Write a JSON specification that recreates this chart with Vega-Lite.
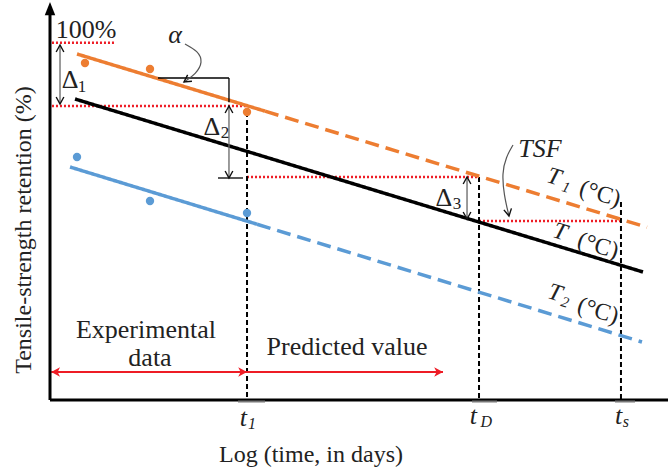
{
  "$schema": "https://vega.github.io/schema/vega-lite/v6.json",
  "width": 618,
  "height": 400,
  "autosize": {"type": "none"},
  "padding": {"left": 50, "top": 0, "right": 0, "bottom": 74},
  "background": "white",
  "config": {"view": {"stroke": null}},
  "datasets": {
    "fit": [
      {"s": "T1", "part": "solid", "x": 0.437, "y": 96.88, "x2": 3.479, "y2": 80.88},
      {"s": "T1", "part": "dashed", "x": 3.479, "y": 80.88, "x2": 9.66, "y2": 48.37},
      {"s": "T", "part": "solid", "x": 0.405, "y": 84.28, "x2": 9.595, "y2": 35.84},
      {"s": "T2", "part": "solid", "x": 0.324, "y": 65.24, "x2": 3.35, "y2": 49.22},
      {"s": "T2", "part": "dashed", "x": 3.35, "y": 49.22, "x2": 9.579, "y2": 16.24}
    ],
    "pts": [
      {"s": "T1", "x": 0.566, "y": 94.36},
      {"s": "T1", "x": 1.618, "y": 92.68},
      {"s": "T1", "x": 3.188, "y": 80.64},
      {"s": "T2", "x": 0.437, "y": 68.04},
      {"s": "T2", "x": 1.618, "y": 55.72},
      {"s": "T2", "x": 3.188, "y": 52.36}
    ],
    "reddot": [
      {"x": 0.032, "x2": 1.052, "y": 100},
      {"x": 0.032, "x2": 3.188, "y": 82.32},
      {"x": 3.188, "x2": 6.942, "y": 62.44},
      {"x": 6.942, "x2": 9.239, "y": 50.12}
    ],
    "vdash": [
      {"x": 3.188, "y": 80.64, "y2": 0},
      {"x": 6.942, "y": 62.44, "y2": 0},
      {"x": 9.239, "y": 55.44, "y2": 0}
    ],
    "gline": [
      {"x": 0.162, "y": 99.4, "x2": 0.162, "y2": 82.88},
      {"x": 2.896, "y": 82.32, "x2": 2.896, "y2": 62.16},
      {"x": 6.748, "y": 62.44, "x2": 6.748, "y2": 50.68}
    ],
    "bline": [
      {"x": 1.748, "y": 90.16, "x2": 2.896, "y2": 90.16},
      {"x": 2.896, "y": 90.16, "x2": 2.896, "y2": 83.4},
      {"x": 2.718, "y": 62.16, "x2": 3.123, "y2": 62.16}
    ],
    "curves": [
      {"id": "a", "i": 0, "x": 2.184, "y": 99.68},
      {"id": "a", "i": 1, "x": 2.395, "y": 97.72},
      {"id": "a", "i": 2, "x": 2.476, "y": 94.64},
      {"id": "a", "i": 3, "x": 2.362, "y": 91.28},
      {"id": "a", "i": 4, "x": 2.168, "y": 89.04},
      {"id": "b", "i": 0, "x": 7.492, "y": 71.4},
      {"id": "b", "i": 1, "x": 7.379, "y": 68.04},
      {"id": "b", "i": 2, "x": 7.314, "y": 63.56},
      {"id": "b", "i": 3, "x": 7.346, "y": 57.4},
      {"id": "b", "i": 4, "x": 7.427, "y": 51.52}
    ],
    "uph": [{"x": 0.162, "y": 99.4}, {"x": 2.896, "y": 82.32}, {"x": 6.748, "y": 62.44}],
    "downh": [{"x": 0.162, "y": 82.88}, {"x": 2.896, "y": 62.16}, {"x": 6.748, "y": 50.68}],
    "alphah": [{"x": 2.168, "y": 89.04}],
    "tsfh": [{"x": 7.427, "y": 51.52}],
    "redline": [
      {"x": 0.02, "x2": 3.188, "y": 7.84},
      {"x": 3.188, "x2": 6.359, "y": 7.84}
    ],
    "redR": [{"x": 3.188, "y": 7.84}, {"x": 6.359, "y": 7.84}],
    "redL": [{"x": 0.02, "y": 7.84}],
    "ticks": [
      {"x": 3.042, "x2": 3.479, "y": -0.42},
      {"x": 6.828, "x2": 7.233, "y": -0.42},
      {"x": 9.142, "x2": 9.466, "y": -0.42}
    ],
    "yaxis": [{"x": 0, "y": 0, "y2": 107.8}],
    "xaxis": [{"x": 0, "x2": 10, "y": 0}],
    "yarrow": [{"x": 0, "y": 109.48}],
    "txt": [
      {"t": "100%", "x": 0.583, "y": 101.36},
      {"t": "Experimental", "x": 1.553, "y": 17.36},
      {"t": "data", "x": 1.618, "y": 9.52},
      {"t": "Predicted value", "x": 4.806, "y": 12.6},
      {"t": "Δ", "x": 0.324, "y": 87.36},
      {"t": "Δ", "x": 2.621, "y": 74.2},
      {"t": "Δ", "x": 6.375, "y": 54.32}
    ],
    "sub": [
      {"t": "1", "x": 0.518, "y": 86.24},
      {"t": "2", "x": 2.832, "y": 73.36},
      {"t": "3", "x": 6.586, "y": 53.48}
    ],
    "ital": [
      {"t": "α", "x": 2.023, "y": 99.96},
      {"t": "TSF", "x": 7.929, "y": 68.04},
      {"t": "t", "x": 3.13, "y": -7.28},
      {"t": "t", "x": 6.85, "y": -6.72},
      {"t": "t", "x": 9.2, "y": -6.72}
    ],
    "italsub": [
      {"t": "1", "x": 3.27, "y": -8.12},
      {"t": "D", "x": 7.06, "y": -7.56},
      {"t": "s", "x": 9.32, "y": -7.56}
    ],
    "rotT": [
      {"t": "T", "x": 8.155, "y": 62.44},
      {"t": "T", "x": 8.252, "y": 47.04},
      {"t": "T", "x": 8.172, "y": 29.96}
    ],
    "rotSub": [
      {"t": "1", "x": 8.35, "y": 59.64},
      {"t": "2", "x": 8.333, "y": 27.44}
    ],
    "rotC": [
      {"t": "(°C)", "x": 8.9, "y": 57.68},
      {"t": "(°C)", "x": 8.867, "y": 43.12},
      {"t": "(°C)", "x": 8.867, "y": 24.92}
    ],
    "xtitle": [{"t": "Log (time, in days)", "x": 4.223, "y": -17.36}],
    "ytitle": [{"t": "Tensile-strength retention (%)", "x": -0.421, "y": 47.6}]
  },
  "encoding": {
    "x": {"field": "x", "type": "quantitative", "scale": {"domain": [0, 10], "nice": false, "zero": false}, "axis": null},
    "y": {"field": "y", "type": "quantitative", "scale": {"domain": [0, 112], "nice": false, "zero": false}, "axis": null}
  },
  "layer": [
    {"data": {"name": "reddot"}, "mark": {"type": "rule", "stroke": "#ee1c25", "strokeWidth": 2.5, "strokeDash": [2, 2]}, "encoding": {"x2": {"field": "x2"}}},
    {"data": {"name": "vdash"}, "mark": {"type": "rule", "stroke": "black", "strokeWidth": 2, "strokeDash": [5, 3]}, "encoding": {"y2": {"field": "y2"}}},
    {"data": {"name": "fit"}, "mark": {"type": "rule", "strokeWidth": 3.5, "strokeCap": "butt"}, "encoding": {
      "x2": {"field": "x2"}, "y2": {"field": "y2"},
      "color": {"field": "s", "type": "nominal", "scale": {"domain": ["T1", "T", "T2"], "range": ["#ED7D31", "#000000", "#5B9BD5"]}, "legend": null},
      "strokeDash": {"field": "part", "type": "nominal", "scale": {"domain": ["solid", "dashed"], "range": [[1, 0], [14, 7]]}, "legend": null}
    }},
    {"data": {"name": "pts"}, "mark": {"type": "point", "filled": true, "size": 70, "opacity": 1}, "encoding": {
      "color": {"field": "s", "type": "nominal", "scale": {"domain": ["T1", "T", "T2"], "range": ["#ED7D31", "#000000", "#5B9BD5"]}, "legend": null}
    }},
    {"data": {"name": "gline"}, "mark": {"type": "rule", "stroke": "#666", "strokeWidth": 1.3}, "encoding": {"x2": {"field": "x2"}, "y2": {"field": "y2"}}},
    {"data": {"name": "bline"}, "mark": {"type": "rule", "stroke": "black", "strokeWidth": 1.3}, "encoding": {"x2": {"field": "x2"}, "y2": {"field": "y2"}}},
    {"data": {"name": "curves"}, "mark": {"type": "line", "stroke": "#555", "strokeWidth": 1.2, "interpolate": "basis"}, "encoding": {"detail": {"field": "id"}, "order": {"field": "i", "type": "quantitative"}}},
    {"data": {"name": "uph"}, "mark": {"type": "point", "shape": "M-0.55,1L0,0L0.55,1", "size": 196, "filled": false, "stroke": "#111", "strokeWidth": 1.4, "opacity": 1}},
    {"data": {"name": "downh"}, "mark": {"type": "point", "shape": "M-0.55,-1L0,0L0.55,-1", "size": 196, "filled": false, "stroke": "#111", "strokeWidth": 1.4, "opacity": 1}},
    {"data": {"name": "alphah"}, "mark": {"type": "point", "shape": "M-1,-0.55L0,0L-1,0.55", "size": 196, "angle": 146, "filled": false, "stroke": "#111", "strokeWidth": 1.4, "opacity": 1}},
    {"data": {"name": "tsfh"}, "mark": {"type": "point", "shape": "M-1,-0.55L0,0L-1,0.55", "size": 196, "angle": 79, "filled": false, "stroke": "#111", "strokeWidth": 1.4, "opacity": 1}},
    {"data": {"name": "redline"}, "mark": {"type": "rule", "stroke": "#ee1c25", "strokeWidth": 2}, "encoding": {"x2": {"field": "x2"}}},
    {"data": {"name": "redR"}, "mark": {"type": "point", "shape": "M0,0L-1.1,-0.6L-0.8,0L-1.1,0.6Z", "size": 256, "filled": true, "fill": "#ee1c25", "opacity": 1}},
    {"data": {"name": "redL"}, "mark": {"type": "point", "shape": "M0,0L1.1,-0.6L0.8,0L1.1,0.6Z", "size": 256, "filled": true, "fill": "#ee1c25", "opacity": 1}},
    {"data": {"name": "yaxis"}, "mark": {"type": "rule", "stroke": "black", "strokeWidth": 3}, "encoding": {"y2": {"field": "y2"}}},
    {"data": {"name": "xaxis"}, "mark": {"type": "rule", "stroke": "black", "strokeWidth": 3}, "encoding": {"x2": {"field": "x2"}}},
    {"data": {"name": "ticks"}, "mark": {"type": "rule", "stroke": "#777", "strokeWidth": 2}, "encoding": {"x2": {"field": "x2"}}},
    {"data": {"name": "yarrow"}, "mark": {"type": "point", "shape": "M0,-1L0.75,0.9L-0.75,0.9Z", "size": 196, "filled": true, "fill": "black", "opacity": 1}},
    {"data": {"name": "txt"}, "mark": {"type": "text", "font": "Liberation Serif", "fontSize": 26, "align": "center", "baseline": "alphabetic", "color": "#222"}, "encoding": {"text": {"field": "t"}}},
    {"data": {"name": "sub"}, "mark": {"type": "text", "font": "Liberation Serif", "fontSize": 17, "align": "center", "baseline": "alphabetic", "color": "#222"}, "encoding": {"text": {"field": "t"}}},
    {"data": {"name": "ital"}, "mark": {"type": "text", "font": "Liberation Serif", "fontStyle": "italic", "fontSize": 26, "align": "center", "baseline": "alphabetic", "color": "#222"}, "encoding": {"text": {"field": "t"}}},
    {"data": {"name": "italsub"}, "mark": {"type": "text", "font": "Liberation Serif", "fontStyle": "italic", "fontSize": 16, "align": "center", "baseline": "alphabetic", "color": "#222"}, "encoding": {"text": {"field": "t"}}},
    {"data": {"name": "rotT"}, "mark": {"type": "text", "font": "Liberation Serif", "fontStyle": "italic", "fontSize": 24, "align": "center", "baseline": "middle", "angle": 17, "color": "#222"}, "encoding": {"text": {"field": "t"}}},
    {"data": {"name": "rotSub"}, "mark": {"type": "text", "font": "Liberation Serif", "fontStyle": "italic", "fontSize": 15, "align": "center", "baseline": "middle", "angle": 17, "color": "#222"}, "encoding": {"text": {"field": "t"}}},
    {"data": {"name": "rotC"}, "mark": {"type": "text", "font": "Liberation Serif", "fontSize": 24, "align": "center", "baseline": "middle", "angle": 17, "color": "#222"}, "encoding": {"text": {"field": "t"}}},
    {"data": {"name": "xtitle"}, "mark": {"type": "text", "font": "Liberation Serif", "fontSize": 24, "align": "center", "baseline": "alphabetic", "color": "#222"}, "encoding": {"text": {"field": "t"}}},
    {"data": {"name": "ytitle"}, "mark": {"type": "text", "font": "Liberation Serif", "fontSize": 24, "align": "center", "baseline": "middle", "angle": 270, "color": "#222"}, "encoding": {"text": {"field": "t"}}}
  ]
}
